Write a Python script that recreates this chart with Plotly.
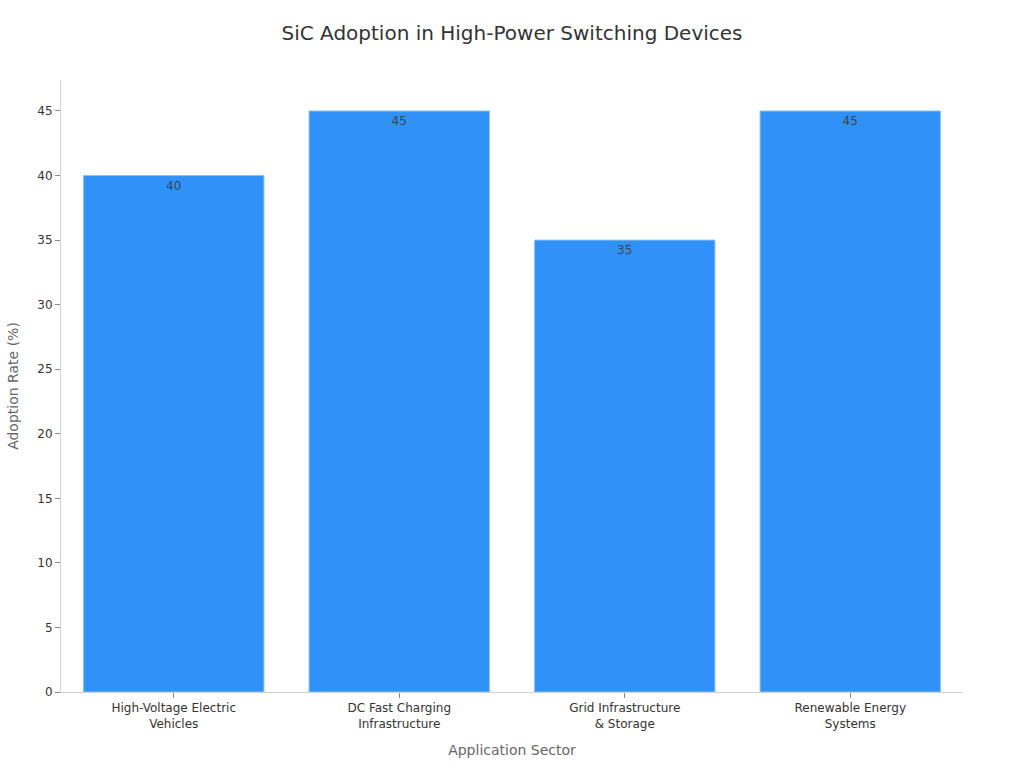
import plotly.graph_objects as go

# data
sectors = [
    "High-Voltage Electric<br>Vehicles",
    "DC Fast Charging<br>Infrastructure",
    "Grid Infrastructure<br>& Storage",
    "Renewable Energy<br>Systems",
]
adoption = [40, 45, 35, 45]

fig = go.Figure(go.Bar(
    x=sectors, y=adoption,
    text=adoption, textposition="inside", insidetextanchor="end",
    textfont=dict(color="#444444", size=12),
    marker=dict(color="#3092F8", line=dict(color="#8cc0f5", width=1)),
))
fig.update_layout(
    title=dict(text="SiC Adoption in High-Power Switching Devices",
               x=0.5, xanchor="center", y=0.957, yanchor="middle",
               font=dict(size=20, color="#333333")),
    font=dict(family="DejaVu Sans", size=12, color="#333333"),
    plot_bgcolor="white", paper_bgcolor="white",
    width=1024, height=768,
    margin=dict(l=61, r=61, t=80, b=76),
    bargap=0.2, showlegend=False,
)
fig.update_xaxes(
    title=dict(text="Application Sector", font=dict(size=14, color="#666666"), standoff=15),
    showline=True, linecolor="#d0d0d0", ticks="outside", ticklen=5, tickcolor="#888888",
    showgrid=False,
)
fig.update_yaxes(
    title=dict(text="Adoption Rate (%)", font=dict(size=14, color="#666666")),
    range=[0, 47.4], dtick=5,
    showline=True, linecolor="#d0d0d0", ticks="outside", ticklen=5, tickcolor="#888888",
    showgrid=False, zeroline=False,
)
# full-window page with no body margin, so the 1024x768 figure sits at 0,0
fig.write_html("out.html", include_plotlyjs=True, full_html=True,
               config={"displayModeBar": False},
               post_script="document.body.style.margin='0';")
